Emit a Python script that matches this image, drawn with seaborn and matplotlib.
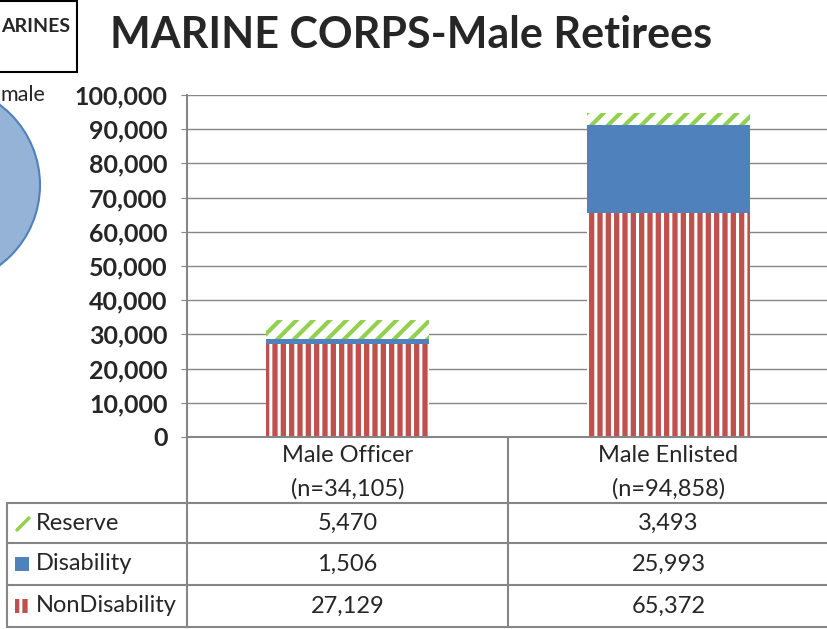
import pandas as pd
import seaborn as sns
import matplotlib.pyplot as plt
from matplotlib.patches import Rectangle, Ellipse
from matplotlib.lines import Line2D
from matplotlib.ticker import FuncFormatter
from matplotlib.transforms import blended_transform_factory

# data
categories = ['Male Officer', 'Male Enlisted']
n_labels = ['(n=34,105)', '(n=94,858)']
series_names = ['Reserve', 'Disability', 'NonDisability']
reserve = [5470, 3493]
disability = [1506, 25993]
non_disability = [27129, 65372]
yticks = [0, 10000, 20000, 30000, 40000, 50000, 60000, 70000, 80000, 90000, 100000]

W, H = 828, 629
RED = '#c0504d'
BLUE = '#4f81bd'
GREEN = '#92d050'
GRID = '#868686'

sns.set_style('white')
plt.rcParams['font.family'] = ['Lato', 'DejaVu Sans']
plt.rcParams['hatch.linewidth'] = 2.2


def fx(x):
    return x / W


def fy(y):
    return 1 - y / H


df = pd.DataFrame({'Category': categories, 'Reserve': reserve,
                   'Disability': disability, 'NonDisability': non_disability})
df['Lower'] = df['NonDisability'] + df['Disability']
df['Total'] = df['Lower'] + df['Reserve']

fig = plt.figure(figsize=(W / 100, H / 100), dpi=100)
ax = fig.add_axes([fx(187), fy(437), 642 / W, 342 / H])

# stacked bars drawn as overlapping cumulative totals
sns.barplot(data=df, x='Category', y='Total', color='white', edgecolor=GREEN, hatch='//',
            linewidth=0, width=0.51, saturation=1, ax=ax)
n_green = len(ax.patches)
sns.barplot(data=df, x='Category', y='Lower', color=BLUE, linewidth=0, width=0.51,
            saturation=1, ax=ax)
sns.barplot(data=df, x='Category', y='NonDisability', color=RED, edgecolor='white', hatch='||',
            linewidth=0, width=0.51, saturation=1, ax=ax)
for p in ax.patches[:n_green]:
    if hasattr(p, 'set_hatch_linewidth'):
        p.set_hatch_linewidth(3.0)

ax.set_xlim(-0.5, 1.5)
ax.set_ylim(0, 100000)
ax.set_yticks(yticks)
ax.yaxis.set_major_formatter(FuncFormatter(lambda v, p: f'{int(v):,}'))
ax.set_xticks([])
ax.set(xlabel='', ylabel='')
ax.tick_params(axis='y', left=True, length=4, color=GRID, pad=10, labelsize=18)
for lab in ax.get_yticklabels():
    lab.set_fontweight('bold')
ax.grid(axis='y', color=GRID, lw=1)
ax.set_axisbelow(True)
for side in ['top', 'right']:
    ax.spines[side].set_visible(False)
for side in ['left', 'bottom']:
    ax.spines[side].set_color(GRID)
    ax.spines[side].set_linewidth(1.5)

# title
fig.text(fx(411), fy(35), 'MARINE CORPS-Male Retirees', ha='center', va='center',
         fontsize=31, fontweight='bold')

# bits of the neighbouring chart on the left
fig.add_artist(Rectangle((fx(-10), fy(72)), 87 / W, 71 / H, transform=fig.transFigure,
                         fill=False, edgecolor='black', lw=1.5))
fig.text(fx(1), fy(26), 'ARINES', ha='left', va='center', fontsize=14, fontweight='bold')
fig.text(fx(1), fy(95), 'male', ha='left', va='center', fontsize=15.5)
fig.add_artist(Ellipse((fx(-60), fy(185)), 200 / W, 200 / H, transform=fig.transFigure,
                       facecolor='#95b3d7', edgecolor=BLUE, lw=1.5))

# data table
def hline(y, x0, x1):
    fig.add_artist(Line2D([fx(x0), fx(x1)], [fy(y), fy(y)], transform=fig.transFigure,
                          color=GRID, lw=1.5))


def vline(x, y0, y1):
    fig.add_artist(Line2D([fx(x), fx(x)], [fy(y0), fy(y1)], transform=fig.transFigure,
                          color=GRID, lw=1.5))


for y in [503, 543, 585, 627]:
    hline(y, 7, 828)
vline(7, 503, 627)
vline(187, 437, 627)
vline(508, 437, 627)

tr = blended_transform_factory(ax.transData, fig.transFigure)
for j, (cat, nl) in enumerate(zip(categories, n_labels)):
    ax.text(j, fy(455), cat, transform=tr, ha='center', va='center', fontsize=17)
    ax.text(j, fy(489), nl, transform=tr, ha='center', va='center', fontsize=17)

row_ys = [523, 564, 606]
row_values = [reserve, disability, non_disability]

# legend keys in the first table column
fig.add_artist(Line2D([fx(17), fx(29)], [fy(530), fy(518)], transform=fig.transFigure,
                      color=GREEN, lw=2.5))
fig.add_artist(Rectangle((fx(15), fy(571)), 14 / W, 14 / H, transform=fig.transFigure,
                         lw=0, facecolor=BLUE))
fig.add_artist(Rectangle((fx(15), fy(613)), 14 / W, 14 / H, transform=fig.transFigure,
                         lw=0, facecolor=RED, edgecolor='white', hatch='||'))

for name, vals, ry in zip(series_names, row_values, row_ys):
    fig.text(fx(36), fy(ry), name, ha='left', va='center', fontsize=17)
    for j, v in enumerate(vals):
        ax.text(j, fy(ry), f'{v:,}', transform=tr, ha='center', va='center', fontsize=17)

fig.savefig('out.png', dpi=100)
